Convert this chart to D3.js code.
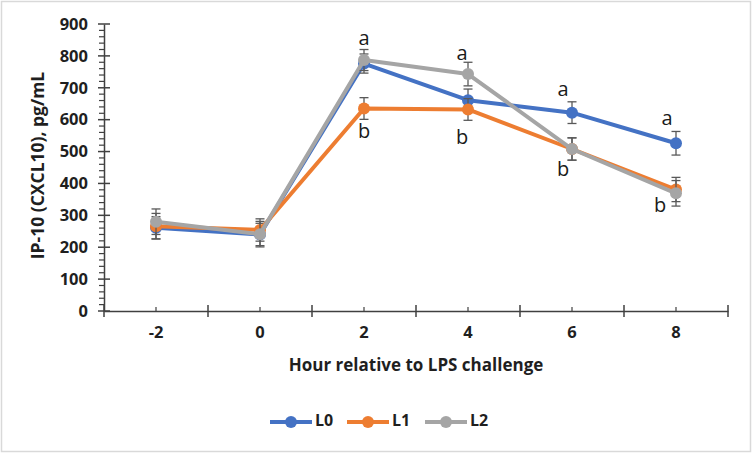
<!DOCTYPE html>
<html>
<head>
<meta charset="utf-8">
<script src="https://cdn.jsdelivr.net/npm/d3@7"></script>
<style>
  html, body { margin: 0; padding: 0; background: #fff; }
  svg { display: block; }
  text { font-family: "Open Sans", "Liberation Sans", sans-serif; }
</style>
</head>
<body>
<svg id="chart" width="752" height="453"></svg>
<script>
// ---- data ----
const categories = ["-2", "0", "2", "4", "6", "8"];
const seriesNames = ["L0", "L1", "L2"];
const seriesColors = ["#4472C4", "#ED7D31", "#A5A5A5"];
const L0 = [261, 240, 776, 661, 622, 526];
const L1 = [266, 254, 635, 632, 508, 381];
const L2 = [280, 241, 787, 743, 508, 369];
const L0err = [35, 35, 30, 35, 34, 37];
const L1err = [40, 35, 34, 34, 35, 38];
const L2err = [40, 40, 33, 37, 35, 40];
const yTicks = [0, 100, 200, 300, 400, 500, 600, 700, 800, 900];
// significance letters: category, letter, y-value where the letter sits
const letterCats = ["2", "2", "4", "4", "6", "6", "8", "8"];
const letterText = ["a", "b", "a", "b", "a", "b", "a", "b"];
const letterVals = [852, 558, 805, 541, 690, 440, 599, 327];
const letterShift = [0, 0, -6, -6, -9, -9, -9, -16];

const yTitle = "IP-10 (CXCL10), pg/mL";
const xTitle = "Hour relative to LPS challenge";

const series = [
  { name: seriesNames[0], color: seriesColors[0], values: L0, errs: L0err },
  { name: seriesNames[1], color: seriesColors[1], values: L1, errs: L1err },
  { name: seriesNames[2], color: seriesColors[2], values: L2, errs: L2err }
];

// ---- layout ----
const svg = d3.select("#chart");
const W = 752, H = 453;
const plot = { left: 104, right: 728, top: 24, bottom: 311 };

svg.append("rect").attr("x", 1.5).attr("y", 1.5).attr("width", W - 3).attr("height", H - 3)
  .attr("fill", "#fff").attr("stroke", "#d9d9d9").attr("stroke-width", 1.5);

const x = d3.scaleBand().domain(categories).range([plot.left, plot.right]).paddingInner(0).paddingOuter(0);
const cx = c => x(c) + x.bandwidth() / 2;
const y = d3.scaleLinear().domain([0, 900]).range([plot.bottom, plot.top]);

const axisColor = "#404040";
const textColor = "#1f1f1f";
const font = "'Open Sans', sans-serif";

// y minor ticks
const minor = d3.range(0, 901, 20).filter(v => v % 100 !== 0);
const yAxisG = svg.append("g").attr("transform", `translate(${plot.left},0)`);
yAxisG.selectAll("line.minor").data(minor).enter().append("line")
  .attr("x1", -5).attr("x2", 0).attr("y1", d => y(d)).attr("y2", d => y(d))
  .attr("stroke", axisColor).attr("stroke-width", 1.2);
// y axis with major ticks crossing
const yAxis = d3.axisLeft(y).tickValues(yTicks).tickSize(0).tickPadding(16);
yAxisG.call(yAxis);
yAxisG.select(".domain").attr("stroke", axisColor).attr("stroke-width", 1.5);
yAxisG.selectAll(".tick line").remove();
yAxisG.selectAll("line.major").data(yTicks).enter().append("line")
  .attr("x1", -6).attr("x2", 6).attr("y1", d => y(d)).attr("y2", d => y(d))
  .attr("stroke", axisColor).attr("stroke-width", 1.5);
yAxisG.selectAll(".tick text").attr("font-size", 16.5).attr("font-weight", 700).attr("fill", textColor)
  .attr("font-family", font);

// x axis
const xAxisG = svg.append("g").attr("transform", `translate(0,${plot.bottom})`);
const xAxis = d3.axisBottom(x).tickSize(0).tickPadding(15);
xAxisG.call(xAxis);
xAxisG.select(".domain").attr("stroke", axisColor).attr("stroke-width", 1.5);
xAxisG.selectAll(".tick text").attr("font-size", 16.5).attr("font-weight", 700).attr("fill", textColor)
  .attr("font-family", font);
// band boundary ticks (crossing) and center minor ticks (upwards)
const bounds = categories.map(c => x(c)).concat([plot.right]);
xAxisG.selectAll("line.bound").data(bounds).enter().append("line")
  .attr("x1", d => d).attr("x2", d => d).attr("y1", -6).attr("y2", 6)
  .attr("stroke", axisColor).attr("stroke-width", 1.5);
xAxisG.selectAll("line.center").data(categories).enter().append("line")
  .attr("x1", d => cx(d)).attr("x2", d => cx(d)).attr("y1", -4).attr("y2", 0)
  .attr("stroke", axisColor).attr("stroke-width", 1.2);

// axis titles
svg.append("text").attr("transform", `translate(39,${(plot.top + plot.bottom) / 2 - 2}) rotate(-90)`)
  .attr("text-anchor", "middle").attr("dominant-baseline", "middle")
  .attr("font-size", 17.5).attr("font-weight", 700).attr("fill", textColor).text(yTitle);
svg.append("text").attr("x", (plot.left + plot.right) / 2).attr("y", 366)
  .attr("text-anchor", "middle").attr("dominant-baseline", "middle")
  .attr("font-size", 17).attr("font-weight", 700).attr("fill", textColor).text(xTitle);

// series
const line = d3.line().x((d, i) => cx(categories[i])).y(d => y(d));
const errColor = "#595959";
series.forEach(s => {
  const g = svg.append("g");
  g.append("path").datum(s.values).attr("d", line).attr("fill", "none")
    .attr("stroke", s.color).attr("stroke-width", 4).attr("stroke-linejoin", "round");
  const eb = g.selectAll("g.err").data(s.values).enter().append("g");
  eb.append("line").attr("x1", (d, i) => cx(categories[i])).attr("x2", (d, i) => cx(categories[i]))
    .attr("y1", (d, i) => y(d - s.errs[i])).attr("y2", (d, i) => y(d + s.errs[i]))
    .attr("stroke", errColor).attr("stroke-width", 1.3);
  [-1, 1].forEach(sign => {
    eb.append("line").attr("x1", (d, i) => cx(categories[i]) - 4.5).attr("x2", (d, i) => cx(categories[i]) + 4.5)
      .attr("y1", (d, i) => y(d + sign * s.errs[i])).attr("y2", (d, i) => y(d + sign * s.errs[i]))
      .attr("stroke", errColor).attr("stroke-width", 1.3);
  });
  g.selectAll("circle").data(s.values).enter().append("circle")
    .attr("cx", (d, i) => cx(categories[i])).attr("cy", d => y(d)).attr("r", 6)
    .attr("fill", s.color);
});

// letters
svg.selectAll("text.letter").data(letterText).enter().append("text")
  .attr("x", (d, i) => cx(letterCats[i]) + letterShift[i])
  .attr("y", (d, i) => y(letterVals[i]))
  .attr("text-anchor", "middle").attr("dominant-baseline", "middle")
  .attr("font-size", 20).attr("fill", "#1a1a1a").text(d => d);

// legend
const legendX = [270, 347, 425];
const lg = svg.append("g");
series.forEach((s, i) => {
  const gx = legendX[i];
  lg.append("line").attr("x1", gx).attr("x2", gx + 42).attr("y1", 422).attr("y2", 422)
    .attr("stroke", s.color).attr("stroke-width", 4);
  lg.append("circle").attr("cx", gx + 21).attr("cy", 422).attr("r", 6).attr("fill", s.color);
  lg.append("text").attr("x", gx + 45).attr("y", 422).attr("dominant-baseline", "middle")
    .attr("font-size", 16).attr("font-weight", 700).attr("fill", textColor).text(s.name);
});
</script>
</body>
</html>
